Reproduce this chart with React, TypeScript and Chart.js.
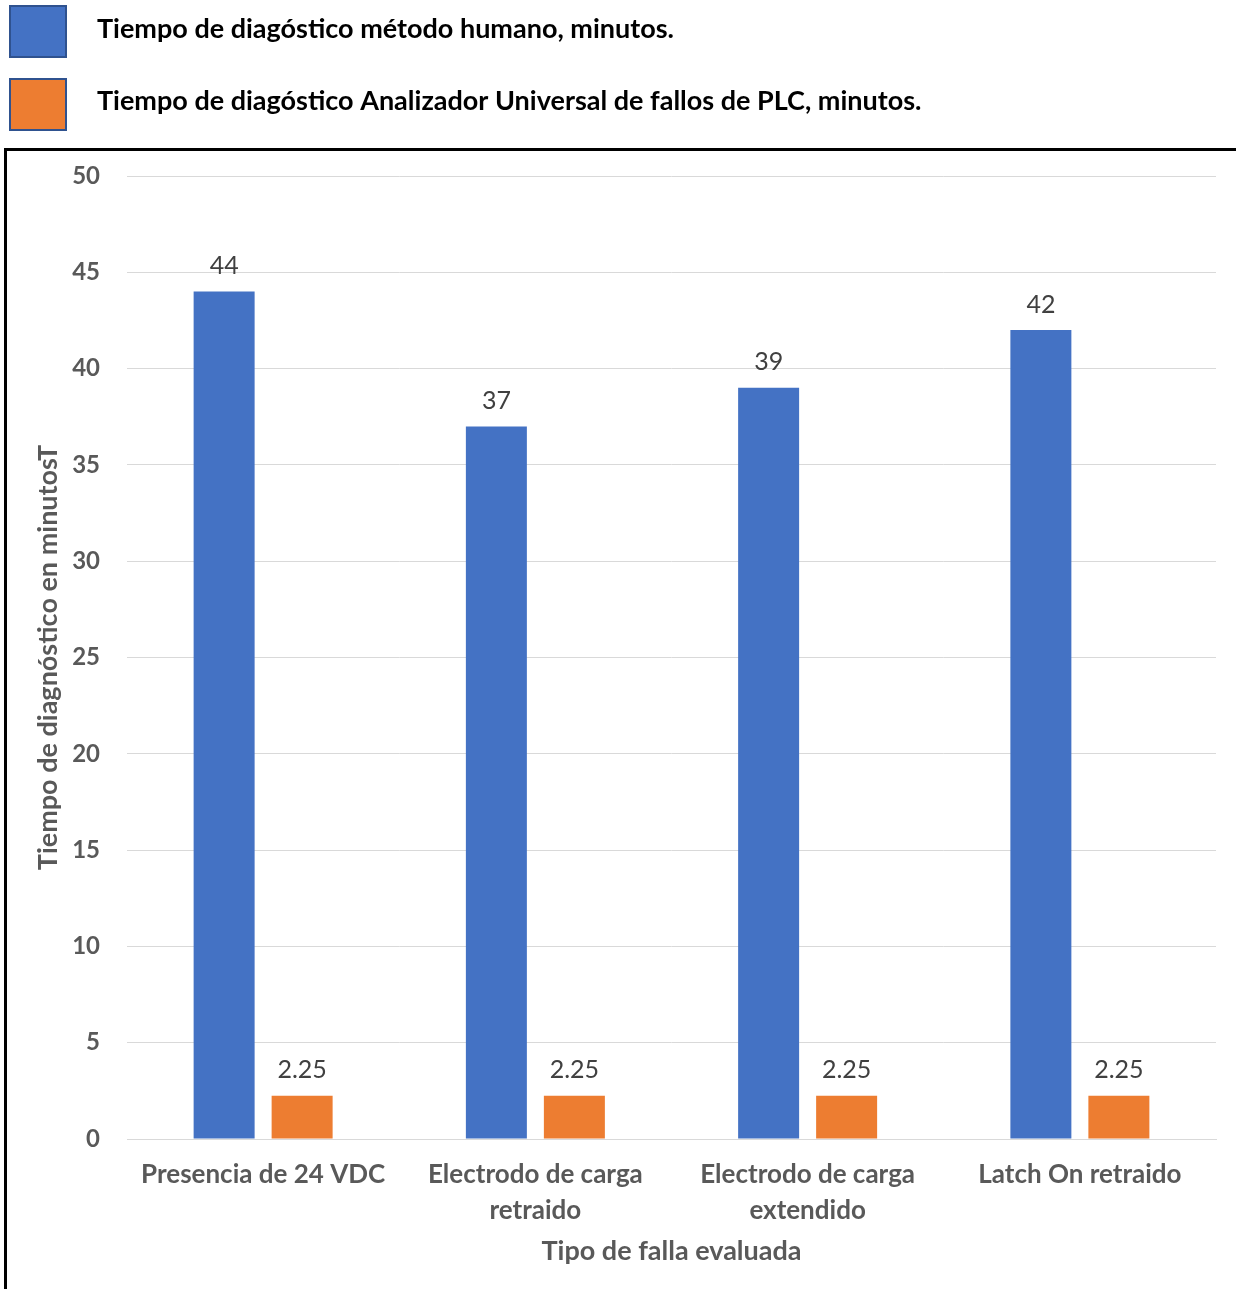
import React, { useEffect, useRef } from "react";
import { Chart, registerables } from "chart.js";

Chart.register(...registerables);

const categories: string[][] = [
  ["Presencia de 24 VDC"],
  ["Electrodo de carga", "retraido"],
  ["Electrodo de carga", "extendido"],
  ["Latch On retraido"],
];
const humanMinutes = [44, 37, 39, 42];
const analyzerMinutes = [2.25, 2.25, 2.25, 2.25];
const seriesNames = [
  "Tiempo de diagóstico método humano, minutos.",
  "Tiempo de diagóstico Analizador Universal de fallos de PLC, minutos.",
];
const seriesColors = ["#4472C4", "#ED7D31"];
const yAxisTitle = "Tiempo de diagnóstico en minutosT";
const xAxisTitle = "Tipo de falla evaluada";
const yMin = 0;
const yMax = 50;
const yStep = 5;

const FONT = "Lato, 'Noto Sans', sans-serif";

const decorPlugin = {
  id: "decor",
  beforeDraw(chart: any) {
    const ctx = chart.ctx;
    ctx.save();
    ctx.fillStyle = "#ffffff";
    ctx.fillRect(0, 0, chart.width, chart.height);
    ctx.restore();
  },
  afterDraw(chart: any) {
    const ctx = chart.ctx;
    ctx.save();
    // frame
    ctx.strokeStyle = "#000000";
    ctx.lineWidth = 3;
    ctx.beginPath();
    ctx.moveTo(5.5, chart.height + 5);
    ctx.lineTo(5.5, 149.5);
    ctx.lineTo(chart.width + 5, 149.5);
    ctx.stroke();
    // legend
    const boxes = [
      { y: 6, ty: 29 },
      { y: 79, ty: 101 },
    ];
    boxes.forEach((b, i) => {
      ctx.fillStyle = seriesColors[i];
      ctx.fillRect(10, b.y, 56, 51);
      ctx.strokeStyle = "#2F528F";
      ctx.lineWidth = 2;
      ctx.strokeRect(10, b.y, 56, 51);
      ctx.fillStyle = "#000000";
      ctx.font = `bold 27px ${FONT}`;
      ctx.textAlign = "left";
      ctx.textBaseline = "middle";
      ctx.fillText(seriesNames[i], 97, b.ty);
    });
    ctx.restore();
  },
  afterDatasetsDraw(chart: any) {
    const ctx = chart.ctx;
    ctx.save();
    ctx.fillStyle = "#404040";
    ctx.font = `25px ${FONT}`;
    ctx.textAlign = "center";
    ctx.textBaseline = "middle";
    chart.data.datasets.forEach((ds: any, di: number) => {
      const meta = chart.getDatasetMeta(di);
      meta.data.forEach((el: any, i: number) => {
        ctx.fillText(String(ds.data[i]), el.x, el.y - 25.5);
      });
    });
    ctx.restore();
  },
};

export default function App() {
  const ref = useRef<HTMLCanvasElement | null>(null);
  useEffect(() => {
    if (!ref.current) return;
    const chart = new Chart(ref.current, {
      type: "bar",
      data: {
        labels: categories,
        datasets: [
          {
            label: seriesNames[0],
            data: humanMinutes,
            backgroundColor: seriesColors[0],
            categoryPercentage: 0.573,
            barPercentage: 0.782,
          },
          {
            label: seriesNames[1],
            data: analyzerMinutes,
            backgroundColor: seriesColors[1],
            categoryPercentage: 0.573,
            barPercentage: 0.782,
          },
        ],
      },
      options: {
        animation: false,
        responsive: false,
        layout: { padding: { left: 0, top: 176, right: 20, bottom: 0 } },
        plugins: {
          legend: { display: false },
          tooltip: { enabled: false },
        },
        scales: {
          x: {
            grid: { display: false, drawTicks: false },
            border: { display: true, color: "#D9D9D9", width: 1 },
            ticks: {
              color: "#595959",
              font: { family: FONT, size: 26, weight: "bold", lineHeight: 36 / 26 },
              padding: 18,
              maxRotation: 0,
              autoSkip: false,
            },
            title: {
              display: true,
              text: xAxisTitle,
              color: "#595959",
              font: { family: FONT, size: 27, weight: "bold" },
              padding: { top: 0, bottom: 22 },
            },
            afterFit(scale: any) {
              scale.height = 150;
            },
          },
          y: {
            min: yMin,
            max: yMax,
            grid: { color: "#D9D9D9", lineWidth: 1, drawTicks: false },
            border: { display: false },
            ticks: {
              stepSize: yStep,
              color: "#595959",
              font: { family: FONT, size: 24, weight: "bold" },
              padding: 27,
            },
            title: {
              display: true,
              text: yAxisTitle,
              color: "#595959",
              font: { family: FONT, size: 27, weight: "bold" },
              padding: { top: 32, bottom: 0 },
            },
            afterFit(scale: any) {
              scale.width = 127;
            },
          },
        },
      },
      plugins: [decorPlugin],
    });
    return () => chart.destroy();
  }, []);
  return (
    <div style={{ position: "fixed", left: 0, top: 0, width: 1236, height: 1289, background: "#fff" }}>
      <canvas ref={ref} width={1236} height={1289} style={{ display: "block" }} />
    </div>
  );
}
